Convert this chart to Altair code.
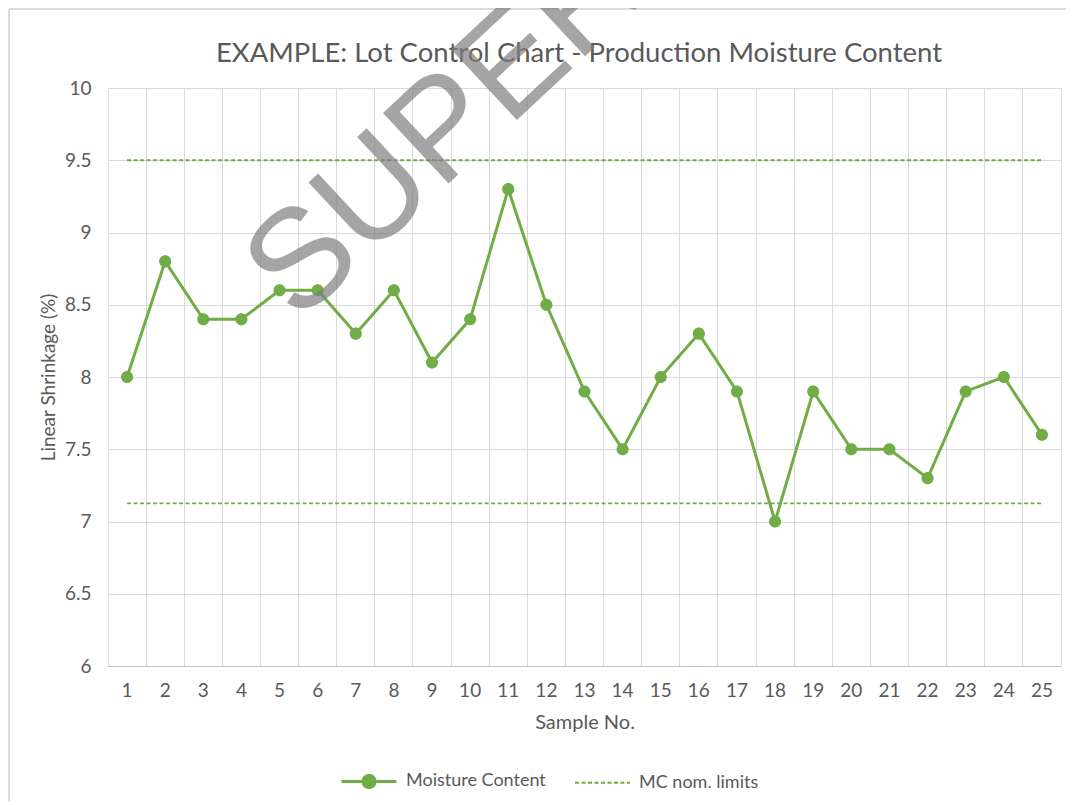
import altair as alt
import pandas as pd

# ---------------- data ----------------
TITLE = ["EXAMPLE: Lot Control Chart - Production Moisture Content"]
SAMPLES = list(range(1, 26))
MOISTURE = [8.0, 8.8, 8.4, 8.4, 8.6, 8.6, 8.3, 8.6, 8.1, 8.4, 9.3, 8.5, 7.9,
            7.5, 8.0, 8.3, 7.9, 7.0, 7.9, 7.5, 7.5, 7.3, 7.9, 8.0, 7.6]
LIMIT_UPPER = 9.5
LIMIT_LOWER = 7.125
SERIES = ["Moisture Content", "MC nom. limits"]
Y_TICKS = [6, 6.5, 7, 7.5, 8, 8.5, 9, 9.5, 10]
X_TITLE = "Sample No."
Y_TITLE = "Linear Shrinkage (%)"
WATERMARK = ["SUPERSEDED"]

# ---------------- style ----------------
GREEN = "#70AD47"
TEXT = "#595959"
GRID = "#D9D9D9"
FONT = "Lato"
W, H = 953, 578

rows = [{"sample": s, "value": v, "series": SERIES[0], "grp": "mc"}
        for s, v in zip(SAMPLES, MOISTURE)]
for name, lim in (("upper", LIMIT_UPPER), ("lower", LIMIT_LOWER)):
    for s in (SAMPLES[0], SAMPLES[-1]):
        rows.append({"sample": s, "value": lim, "series": SERIES[1], "grp": name})
df = pd.DataFrame(rows)
mc = df[df["series"] == SERIES[0]]

# legend symbol paths (unit square -1..1): line with dot, plain line
DOT_R = 0.22
LINE_DOT = (f"M-1,0H1M-{DOT_R},0A{DOT_R},{DOT_R},0,1,0,{DOT_R},0"
            f"A{DOT_R},{DOT_R},0,1,0,-{DOT_R},0Z")
LINE_ONLY = "M-1,0H1"
SYM_SIZE = 55 * 55

legend = alt.Legend(
    title=None, orient="none", direction="horizontal",
    legendX=232, legendY=664, padding=0,
    labelFont=FONT, labelFontSize=18, labelColor=TEXT,
    labelOffset=8, columnPadding=25, symbolSize=SYM_SIZE,
    symbolStrokeColor=GREEN, symbolFillColor=GREEN,
)

xscale = alt.Scale(type="band", domain=SAMPLES, paddingInner=0, paddingOuter=0)
yscale = alt.Scale(domain=[6, 10], nice=False, zero=False)
color = alt.Color("series:N", scale=alt.Scale(domain=SERIES, range=[GREEN, GREEN]),
                  legend=legend)

y_axis = alt.Axis(
    title=Y_TITLE, values=Y_TICKS, format="~g", ticks=False, domain=False,
    grid=True, gridColor=GRID, gridWidth=1,
    labelFont=FONT, labelFontSize=19, labelColor=TEXT, labelPadding=17,
    titleFont=FONT, titleFontSize=19, titleColor=TEXT, titleFontWeight="normal",
    titleX=-60, titleY=H / 2, titleAngle=270, titleBaseline="middle",
    titleAlign="center",
)

x_axis_bottom = alt.Axis(
    title=X_TITLE, labelAngle=0, ticks=False, grid=False,
    domainColor="#BFBFBF", domainWidth=1,
    labelFont=FONT, labelFontSize=19, labelColor=TEXT, labelPadding=24,
    labelBaseline="middle",
    titleFont=FONT, titleFontSize=20, titleColor=TEXT, titleFontWeight="normal",
    titleY=56, titleBaseline="middle",
)

x_axis_grid = alt.Axis(
    orient="top", title=None, labels=False, ticks=False, domain=False,
    grid=True, gridColor=GRID, gridWidth=1, bandPosition=0,
)

lines = alt.Chart(df).mark_line().encode(
    x=alt.X("sample:O", scale=xscale, axis=x_axis_bottom),
    y=alt.Y("value:Q", scale=yscale, axis=y_axis),
    color=color,
    strokeDash=alt.StrokeDash("series:N", scale=alt.Scale(domain=SERIES, range=[[1, 0], [4, 2.5]]),
                              legend=legend),
    strokeWidth=alt.StrokeWidth("series:N", scale=alt.Scale(domain=SERIES, range=[3, 1.8]),
                                legend=legend),
    detail="grp:N",
)

points = alt.Chart(mc).mark_point(filled=True, opacity=1, size=SYM_SIZE).encode(
    x=alt.X("sample:O", scale=xscale, axis=x_axis_grid),
    y=alt.Y("value:Q", scale=yscale),
    color=color,
    shape=alt.Shape("series:N", scale=alt.Scale(domain=SERIES, range=[LINE_DOT, LINE_ONLY]),
                    legend=legend),
)

title = alt.Chart(pd.DataFrame({"t": TITLE})).mark_text(
    font=FONT, fontSize=27.5, color=TEXT, align="center", baseline="alphabetic",
).encode(text="t:N", x=alt.value(471), y=alt.value(-26))

watermark = alt.Chart(pd.DataFrame({"t": WATERMARK})).mark_text(
    font="Liberation Sans", fontSize=140, color="#7F7F7F", opacity=0.7,
    angle=317, align="left", baseline="alphabetic",
).encode(text="t:N", x=alt.value(190), y=alt.value(236))

border_top = alt.Chart(pd.DataFrame({"a": [0]})).mark_rule(
    color="#D0D0D0", strokeWidth=1.5).encode(
    x=alt.value(-99), x2=alt.value(W + 20), y=alt.value(-79))
border_left = alt.Chart(pd.DataFrame({"a": [0]})).mark_rule(
    color="#D0D0D0", strokeWidth=1.5).encode(
    x=alt.value(-99), y=alt.value(-79), y2=alt.value(H + 140))

chart = alt.layer(border_top, border_left, lines, points, title, watermark).resolve_axis(
    x="independent"
).properties(
    width=W, height=H,
    autosize=alt.AutoSizeParams(type="none"),
    padding={"left": 100, "top": 80, "right": 5, "bottom": 135},
).configure_view(stroke=GRID, strokeWidth=1).configure(background="white")

chart.save("out.html", embed_options={"renderer": "svg", "actions": False})
